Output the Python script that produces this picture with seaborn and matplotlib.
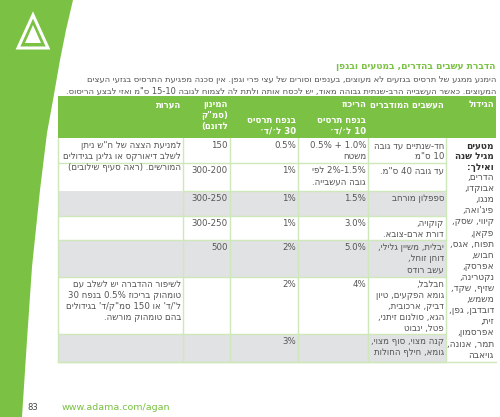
import re
import matplotlib
matplotlib.use("Agg")
import matplotlib.pyplot as plt
import seaborn as sns
from matplotlib.patches import Polygon, Rectangle

sns.set_theme(style="white")
plt.rcParams['font.family'] = ['DejaVu Sans']

title = "הדברת עשבים בהדרים, במטעים ובגפן"
para = ["הימנע ממגע של תרסיס בגזעים לא מעוצים, בענפים וסורים של עצי פרי וגפן. אין סכנה מפגיעת התרסיס בגזעי העצים",
        "המעוצים. כאשר העשבייה הרב-שנתית גבוהה מאוד, יש לכסח אותה ולתת לה לצמוח לגובה 10-15 ס\"מ ואזי לבצע הריסוס."]
headers = ["הגידול", "העשבים המודברים", "הריכוז", "המינון\n(סמ\"ק\nלדונם)", "הערות"]
sub10 = "בנפח תרסיס\n10 ל׳/ד׳"
sub30 = "בנפח תרסיס\n30 ל׳/ד׳"
crop_bold = "מטעים\nמגיל שנה\nואילך:"
crop_list = "הדרים,\nאבוקדו,\nמנגו,\nפיג'ואה,\nקיווי, שסק,\nפקאן,\nתפוח, אגס,\nחבוש,\nאפרסק,\nנקטרינה,\nשזיף, שקד,\nמשמש,\nדובדבן, גפן,\nזית,\nאפרסמון,\nתמר, אנונה,\nגויאבה"
weeds = ["חד-שנתיים עד גובה\n10 ס\"מ", "עד גובה 40 ס\"מ.", "ספפלון מורחב", "קוקויה,\nדורת ארם-צובא.",
         "יבלית, משיין גלילי,\nדוחן זוחל,\nעשב רודס",
         "חבלבל,\nגומא הפקעים, טיון\nדביק, ארכובית,\nהגא, סולנום זיתני,\nפטל, ינבוט",
         "קנה מצוי, סוף מצוי,\nגומא, חילף החולות"]
conc10 = ["1.0% + 0.5%\nמשטח", "1.5%-2% לפי\nגובה העשבייה.", "1.5%", "3.0%", "5.0%", "4%", ""]
conc30 = ["0.5%", "1%", "1%", "1%", "2%", "2%", "3%"]
dose = ["150", "200-300", "250-300", "250-300", "500", "", ""]
notes = ["למניעת הצצה של ח\"ש ניתן\nלשלב דיאורקס או גליגן בגידולים\nהמורשים. (ראה סעיף שילובים)", None, "", "", "",
         "לשיפור ההדברה יש לשלב עם\nטומהוק בריכוז 0.5% בנפח 30\nל'/ד' או 150 סמ\"ק/ד' בגידולים\nבהם טומהוק מורשה.", ""]
footer_page = "83"
footer_url = "www.adama.com/agan"

MIRROR = str.maketrans("()", ")(")
def vis(s):
    out = []
    for line in s.split("\n"):
        r = line[::-1].translate(MIRROR)
        r = re.sub(r"[0-9A-Za-z.%/]+", lambda m: m.group(0)[::-1], r)
        out.append(r)
    return "\n".join(out)

GREEN = "#7bc143"
GRAY = "#e1e2e3"
LINE = "#cfe8bb"
TXT = "#555555"

fig = plt.figure(figsize=(5, 4.17), dpi=100)
ax = fig.add_axes([0, 0, 1, 1])
ax.set_xlim(0, 500); ax.set_ylim(417, 0); ax.axis("off")

# left green band
ax.add_patch(Polygon([(0, 0), (73, 0), (66, 30), (60, 60), (53, 100), (47, 133), (40, 190),
                      (32, 267), (27, 340), (22, 417), (0, 417)], closed=True, color=GREEN, lw=0))
ax.add_patch(Polygon([(33, 15), (18, 48), (48, 48)], closed=True, fill=False, ec="white", lw=2.2))
ax.add_patch(Polygon([(33, 25), (25, 43), (41, 43)], closed=True, color="white", lw=0))

fs = 6.2
ax.text(496, 66, vis(title), color=GREEN, fontsize=6.6, fontweight="bold", ha="right", va="center")
for i, l in enumerate(para):
    ax.text(496, 79 + i * 12, vis(l), color=TXT, fontsize=6.0, ha="right", va="center")

xs = [58, 183, 230, 298, 368, 446, 496]
ax.add_patch(Rectangle((58, 96), 438, 42, color=GREEN, lw=0))
hdr = dict(color="white", fontsize=fs, fontweight="bold", ha="right", va="top", linespacing=1.25)
ax.text(494, 100, vis(headers[0]), **hdr)
ax.text(444, 100, vis(headers[1]), **hdr)
ax.text(366, 100, vis(headers[2]), **hdr)
ax.text(228, 100, vis(headers[3]), **hdr)
ax.text(181, 100, vis(headers[4]), **hdr)
ax.text(366, 116, vis(sub10), **hdr)
ax.text(296, 116, vis(sub30), **hdr)

rows = [138, 163, 191, 216, 240, 277, 334, 362]
gray_rows = [2, 4, 6]
for i in range(7):
    y0, y1 = rows[i], rows[i + 1]
    if i in gray_rows:
        ax.add_patch(Rectangle((58, y0), 388, y1 - y0, color=GRAY, lw=0))
    x0 = 183 if i == 1 else 58
    ax.plot([x0, 446], [y1, y1], color=LINE, lw=1)
    cell = dict(color=TXT, fontsize=fs, ha="right", va="top", linespacing=1.3)
    ax.text(444, y0 + 3, vis(weeds[i]), **cell)
    ax.text(366, y0 + 3, vis(conc10[i]), **cell)
    ax.text(296, y0 + 3, vis(conc30[i]), **cell)
    ax.text(228, y0 + 3, vis(dose[i]), **cell)
    if notes[i]:
        ax.text(181, y0 + 3, vis(notes[i]), **cell)
ax.plot([58, 58], [138, 362], color=LINE, lw=1)
for x in xs[1:6]:
    ax.plot([x, x], [138, 362], color=LINE, lw=1)
ax.plot([58, 496], [362, 362], color=LINE, lw=1)

ax.text(494, 141, vis(crop_bold), color="#333333", fontsize=fs + 0.3, fontweight="bold",
        ha="right", va="top", linespacing=1.3)
ax.text(494, 173, vis(crop_list), color=TXT, fontsize=fs + 0.3, ha="right", va="top", linespacing=1.3)

ax.text(33, 408, footer_page, color="#444444", fontsize=6, ha="center", va="center")
ax.text(62, 408, footer_url, color=GREEN, fontsize=6.8, ha="left", va="center")

fig.savefig("out.png", dpi=100)
